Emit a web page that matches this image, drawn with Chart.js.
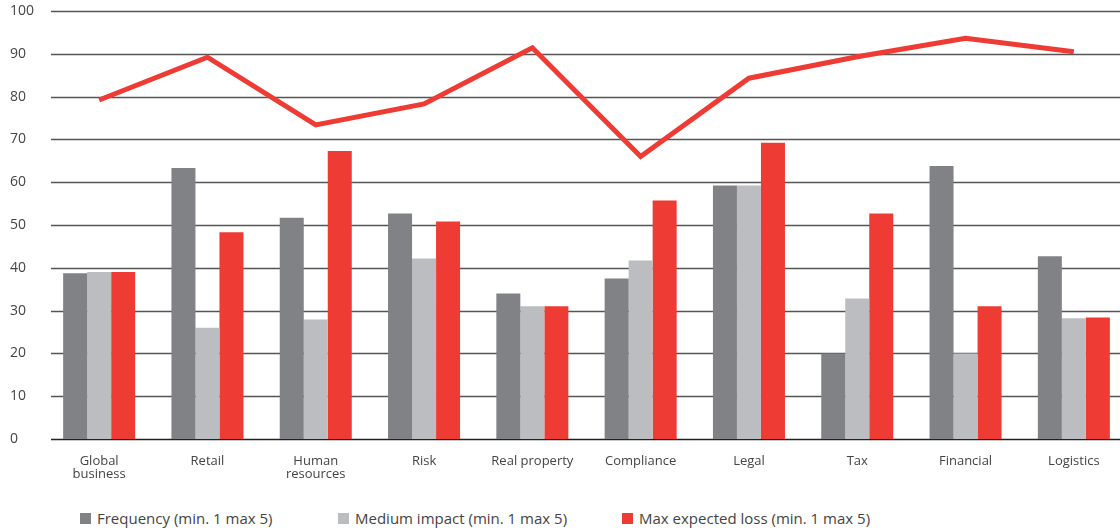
<!DOCTYPE html>
<html lang="en">
<head>
<meta charset="UTF-8">
<title>Risk chart</title>
<script src="https://cdn.jsdelivr.net/npm/chart.js"></script>
<style>
  html, body { margin: 0; padding: 0; background: #fff; overflow: hidden; width: 1120px; height: 531px; }
  .wrap { position: absolute; left: 0; top: 0; width: 1128px; height: 492px; }
  .legend { position: absolute; top: 508px; left: 0; font-family: "Open Sans", sans-serif; font-size: 15px; color: #444; }
  .legend span { position: absolute; white-space: nowrap; }
  .legend i { position: absolute; top: 5px; width: 11px; height: 11px; }
</style>
</head>
<body>
<div class="wrap"><canvas id="myChart" width="1128" height="492"></canvas></div>
<div class="legend" id="legend"></div>
<script>
// data
const categories = [['Global', 'business'], 'Retail', ['Human', 'resources'], 'Risk', 'Real property',
  'Compliance', 'Legal', 'Tax', 'Financial', 'Logistics'];
const frequency = [38.7, 63.3, 51.7, 52.7, 34.0, 37.5, 59.2, 20.0, 63.8, 42.7];
const mediumImpact = [39.0, 26.0, 27.9, 42.2, 31.0, 41.7, 59.2, 32.8, 20.0, 28.2];
const maxLoss = [39.0, 48.3, 67.3, 50.8, 31.0, 55.7, 69.2, 52.7, 31.0, 28.4];
const lineValues = [79.2, 89.2, 73.4, 78.3, 91.4, 66.0, 84.3, 89.3, 93.6, 90.5];
const yTicks = [0, 10, 20, 30, 40, 50, 60, 70, 80, 90, 100];
const seriesNames = ['Frequency (min. 1 max 5)', 'Medium impact (min. 1 max 5)', 'Max expected loss (min. 1 max 5)'];

const DARK = '#818286', LIGHT = '#bcbdc1', RED = '#ee3b33';

// horizontal grid lines start a bit right of the plot edge, like the original
const gridPlugin = {
  id: 'hgrid',
  beforeDatasetsDraw(chart) {
    const ctx = chart.ctx, y = chart.scales.y;
    ctx.save();
    yTicks.forEach(v => {
      const py = Math.round(y.getPixelForValue(v)) + 0.5;
      ctx.beginPath();
      ctx.lineWidth = v === 0 ? 1.6 : 1.4;
      ctx.strokeStyle = v === 0 ? '#222' : '#555';
      ctx.moveTo(51, py);
      ctx.lineTo(chart.width, py);
      ctx.stroke();
    });
    ctx.restore();
  }
};

const ctx = document.getElementById('myChart').getContext('2d');
new Chart(ctx, {
  type: 'bar',
  data: {
    labels: categories,
    datasets: [
      { type: 'line', label: 'line', data: lineValues, borderColor: RED, borderWidth: 5,
        pointRadius: 0, tension: 0, fill: false, order: 0 },
      { label: seriesNames[0], data: frequency, backgroundColor: DARK, order: 1 },
      { label: seriesNames[1], data: mediumImpact, backgroundColor: LIGHT, order: 1 },
      { label: seriesNames[2], data: maxLoss, backgroundColor: RED, order: 1 }
    ]
  },
  options: {
    responsive: false,
    animation: false,
    datasets: { bar: { categoryPercentage: 0.665, barPercentage: 1.0 } },
    layout: { padding: { left: 10, top: 11, right: 0, bottom: 0 } },
    plugins: { legend: { display: false }, tooltip: { enabled: false } },
    scales: {
      x: {
        offset: true,
        grid: { display: false, drawTicks: false },
        border: { display: false },
        ticks: { color: '#444', padding: 16, maxRotation: 0, autoSkip: false,
          font: { family: 'Open Sans', size: 13, lineHeight: 1.0 } },
        afterFit(s) { s.height = 53; }
      },
      y: {
        min: 0, max: 100,
        afterBuildTicks(s) { s.ticks = yTicks.map(v => ({ value: v })); },
        grid: { display: false, drawTicks: false },
        border: { display: false },
        ticks: { color: '#444', crossAlign: 'far', padding: 0,
          font: { family: 'Open Sans', size: 14 } },
        afterFit(s) { s.width = 35; }
      }
    }
  },
  plugins: [gridPlugin]
});

// legend below the chart
const legendPos = [80, 338, 622];
const legendColors = [DARK, LIGHT, RED];
const legend = document.getElementById('legend');
seriesNames.forEach((name, i) => {
  const sw = document.createElement('i');
  sw.style.left = legendPos[i] + 'px';
  sw.style.background = legendColors[i];
  const t = document.createElement('span');
  t.style.left = (legendPos[i] + 17) + 'px';
  t.textContent = name;
  legend.appendChild(sw);
  legend.appendChild(t);
});
</script>
</body>
</html>
